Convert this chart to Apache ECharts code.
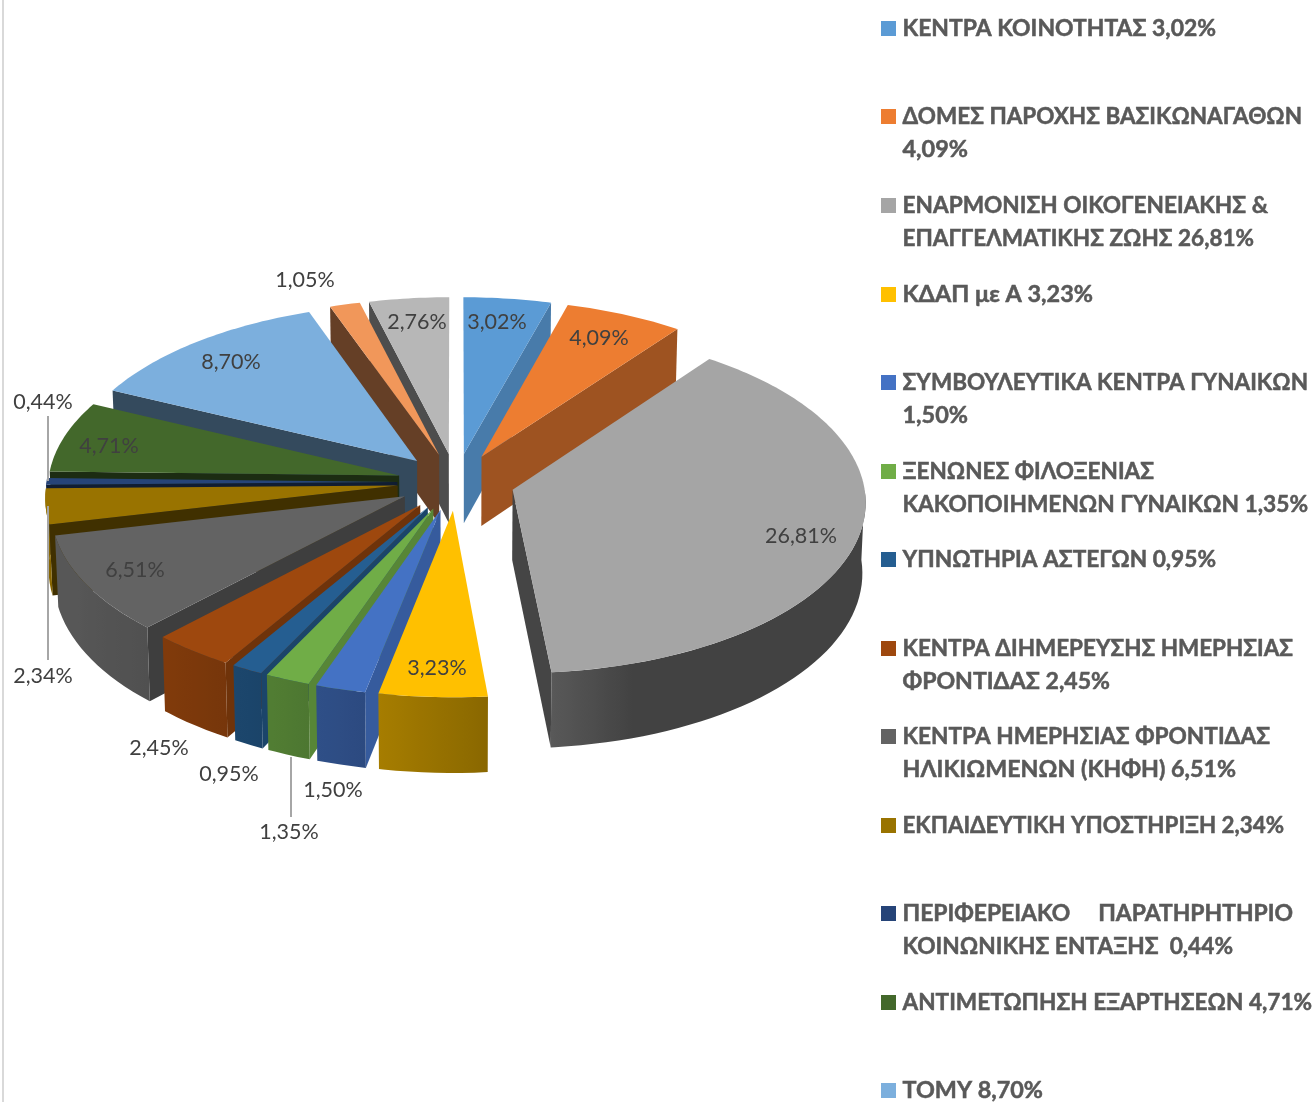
<!DOCTYPE html>
<html>
<head>
<meta charset="utf-8">
<style>
  html, body { margin: 0; padding: 0; background: #fff; }
  #main { width: 1315px; height: 1102px; }
</style>
<script src="https://cdn.jsdelivr.net/npm/echarts@6/dist/echarts.min.js"></script>
</head>
<body>
<div id="main"></div>
<script>
// legend names, \n = line break as in the original
const categories = [
  'ΚΕΝΤΡΑ ΚΟΙΝΟΤΗΤΑΣ',
  'ΔΟΜΕΣ ΠΑΡΟΧΗΣ ΒΑΣΙΚΩΝΑΓΑΘΩΝ\n',
  'ΕΝΑΡΜΟΝΙΣΗ ΟΙΚΟΓΕΝΕΙΑΚΗΣ &\nΕΠΑΓΓΕΛΜΑΤΙΚΗΣ ΖΩΗΣ',
  'ΚΔΑΠ με Α',
  'ΣΥΜΒΟΥΛΕΥΤΙΚΑ ΚΕΝΤΡΑ ΓΥΝΑΙΚΩΝ\n',
  'ΞΕΝΩΝΕΣ ΦΙΛΟΞΕΝΙΑΣ\nΚΑΚΟΠΟΙΗΜΕΝΩΝ ΓΥΝΑΙΚΩΝ',
  'ΥΠΝΩΤΗΡΙΑ ΑΣΤΕΓΩΝ',
  'ΚΕΝΤΡΑ ΔΙΗΜΕΡΕΥΣΗΣ ΗΜΕΡΗΣΙΑΣ\nΦΡΟΝΤΙΔΑΣ',
  'ΚΕΝΤΡΑ ΗΜΕΡΗΣΙΑΣ ΦΡΟΝΤΙΔΑΣ\nΗΛΙΚΙΩΜΕΝΩΝ (ΚΗΦΗ)',
  'ΕΚΠΑΙΔΕΥΤΙΚΗ ΥΠΟΣΤΗΡΙΞΗ',
  'ΠΕΡΙΦΕΡΕΙΑΚΟ     ΠΑΡΑΤΗΡΗΤΗΡΙΟ\nΚΟΙΝΩΝΙΚΗΣ ΕΝΤΑΞΗΣ ',
  'ΑΝΤΙΜΕΤΩΠΗΣΗ ΕΞΑΡΤΗΣΕΩΝ',
  'ΤΟΜΥ'
];
const values = [3.02, 4.09, 26.81, 3.23, 1.50, 1.35, 0.95, 2.45, 6.51, 2.34, 0.44, 4.71, 8.70, 1.05, 2.76];
// the last two slices have no legend row in the picture
const sliceColors = ['#5B9BD5', '#ED7D31', '#A5A5A5', '#FFC000', '#4472C4', '#70AD47', '#255E91', '#9E480E',
  '#636363', '#997300', '#264478', '#43682B', '#7CAFDD', '#F1975A', '#B7B7B7'];

// where the percent labels sit (centre of text)
const labelPos = [[497, 322], [599, 338], [801, 536], [437, 668], [333, 790], [289, 832], [229, 774], [159, 748],
  [135, 570], [43, 676], [43, 402], [109, 446], [231, 362], [305, 280], [417, 322]];
const leaderLines = [[48, 416, 48, 481], [48, 660, 48, 506], [291, 757, 291, 817]];
// y of first line of each legend row
const legendY = [28, 116, 205, 294, 382, 471, 559, 648, 736, 825, 913, 1002, 1090];
const legendLineGap = 33;
// right end of each legend text line, the original is justified in places
const legendRight = [[1216], [1302, 968], [1268, 1254], [1093], [1308, 968], [1154, 1308], [1216],
  [1293, 1110], [1270, 1236], [1284], [1293, 1233], [1312], [1043]];
const legendFont = '700 22.5px Lato, "Open Sans", sans-serif';

// pie geometry, 3d look faked with a small perspective
const cx = 456, cy = 482, radX = 351, radY = 170.5, persp = 0.065, wallH = 70, explode = 0.167;
const total = values.reduce((a, b) => a + b, 0);
const rad = Math.PI / 180;
// rim brightness against angle (clockwise from top)
const rimStops = [[90, 0.4], [162, 0.4], [175, 0.54], [191, 0.65], [205, 0.72], [220, 0.8], [245, 0.88], [270, 0.88]];

function pct(v) {
  return v.toFixed(2).replace('.', ',') + '%';
}
function project(u, v, low) {
  const s = 1 / (1 - persp * v);
  return [
    cx + radX * u * s * (low ? 0.992 : 1),
    cy + radY * v * s + (low ? wallH * s : 0)
  ];
}
function shade(hex, f) {
  const n = parseInt(hex.slice(1), 16);
  const c = [n >> 16, (n >> 8) & 255, n & 255].map(x => Math.min(255, Math.round(x * f)));
  return 'rgb(' + c.join(',') + ')';
}
// brightness of a flat cut face from the direction it looks at
function cutShade(normal) {
  const t = ((normal % 360) + 360) % 360;
  if (t > 167) return 0.42;
  return Math.max(0.42, Math.min(0.8, 0.8 - (t - 105) * 0.0062));
}
function rimShade(angle) {
  for (let k = 1; k < rimStops.length; k++) {
    if (angle <= rimStops[k][0]) {
      const p = rimStops[k - 1], q = rimStops[k];
      return p[1] + (q[1] - p[1]) * (angle - p[0]) / (q[0] - p[0]);
    }
  }
  return 0.88;
}

function renderSlice(params, api) {
  const i = params.dataIndex;
  const val = api.value(0);
  let before = 0;
  for (let k = 0; k < i; k++) before += values[k];
  const a0 = before / total * 360;
  const a1 = (before + val) / total * 360;
  const mid = (a0 + a1) / 2;
  const ox = explode * Math.sin(mid * rad);
  const oy = -explode * Math.cos(mid * rad);
  const pt = (a, low) => project(ox + Math.sin(a * rad), oy - Math.cos(a * rad), low);
  const apex = low => project(ox, oy, low);
  const color = sliceColors[i];
  // painter order: far slices first
  const z2 = Math.round(100 * (1 - Math.cos(mid * rad)));
  const children = [];

  function wall(angle, normal) {
    if (-Math.cos(normal * rad) <= 0) return;
    children.push({
      type: 'polygon',
      z2: z2,
      shape: { points: [apex(false), pt(angle, false), pt(angle, true), apex(true)] },
      style: { fill: shade(color, cutShade(normal)) }
    });
  }
  wall(a0, a0 - 90);
  wall(a1, a1 + 90);

  // outer rim, only the part turned to the viewer
  const from = Math.max(a0, 90), to = Math.min(a1, 270);
  if (from < to) {
    const upper = [], lower = [], samples = [];
    for (let a = from; ; a += 2) {
      const b = Math.min(a, to);
      upper.push(pt(b, false));
      lower.unshift(pt(b, true));
      samples.push([pt(b, false)[0], rimShade(b)]);
      if (b >= to) break;
    }
    const xs = samples.map(s => s[0]);
    const xMin = Math.min.apply(null, xs), xMax = Math.max.apply(null, xs);
    const stops = samples.map(s => ({
      offset: (s[0] - xMin) / (xMax - xMin),
      color: shade(color, s[1])
    })).sort((p, q) => p.offset - q.offset);
    children.push({
      type: 'polygon',
      z2: z2 + 1,
      shape: { points: upper.concat(lower) },
      style: { fill: new echarts.graphic.LinearGradient(xMin, 0, xMax, 0, stops, true) }
    });
  }

  const top = [apex(false)];
  for (let a = a0; a < a1; a += 1) top.push(pt(a, false));
  top.push(pt(a1, false));
  children.push({
    type: 'polygon',
    z2: z2 + 2,
    shape: { points: top },
    style: { fill: color }
  });

  children.push({
    type: 'text',
    z2: 1000,
    style: {
      x: labelPos[i][0], y: labelPos[i][1],
      text: pct(val),
      fill: '#404040',
      font: '400 21.5px Lato, "Open Sans", sans-serif',
      align: 'center', verticalAlign: 'middle'
    }
  });
  return { type: 'group', children: children };
}

// legend is laid out by hand since rows are unevenly spaced in the original
const measure = document.createElement('canvas').getContext('2d');
measure.font = legendFont;
const graphicEls = [
  { type: 'rect', shape: { x: 2, y: 0, width: 2, height: 1102 }, style: { fill: '#D9D9D9' }, silent: true }
];
categories.forEach((name, i) => {
  graphicEls.push({
    type: 'rect',
    shape: { x: 881, y: legendY[i] - 7, width: 15, height: 15 },
    style: { fill: sliceColors[i] }
  });
  const lines = (name + (name.endsWith('\n') ? '' : ' ') + pct(values[i])).split('\n');
  lines.forEach((line, j) => {
    const width = measure.measureText(line).width;
    graphicEls.push({
      type: 'text',
      originX: 902.5,
      scaleX: (legendRight[i][j] - 902.5) / width,
      style: {
        x: 902.5, y: legendY[i] + 1 + j * legendLineGap,
        text: line,
        fill: '#595959',
        stroke: '#595959',
        lineWidth: 0.5,
        font: legendFont,
        textAlign: 'left', textVerticalAlign: 'middle'
      }
    });
  });
});

const chart = echarts.init(document.getElementById('main'));
chart.setOption({
  animation: false,
  backgroundColor: '#fff',
  graphic: { elements: graphicEls },
  series: [
    {
      type: 'custom',
      coordinateSystem: 'none',
      silent: true,
      renderItem: renderSlice,
      data: values.map(v => [v])
    },
    {
      // leader lines of the three outside labels
      type: 'custom',
      coordinateSystem: 'none',
      silent: true,
      z: 3,
      renderItem: (params) => {
        const l = leaderLines[params.dataIndex];
        return {
          type: 'line',
          shape: { x1: l[0], y1: l[1], x2: l[2], y2: l[3] },
          style: { stroke: '#A6A6A6', lineWidth: 2 }
        };
      },
      data: leaderLines.map((l, i) => [i])
    }
  ]
});
</script>
</body>
</html>
